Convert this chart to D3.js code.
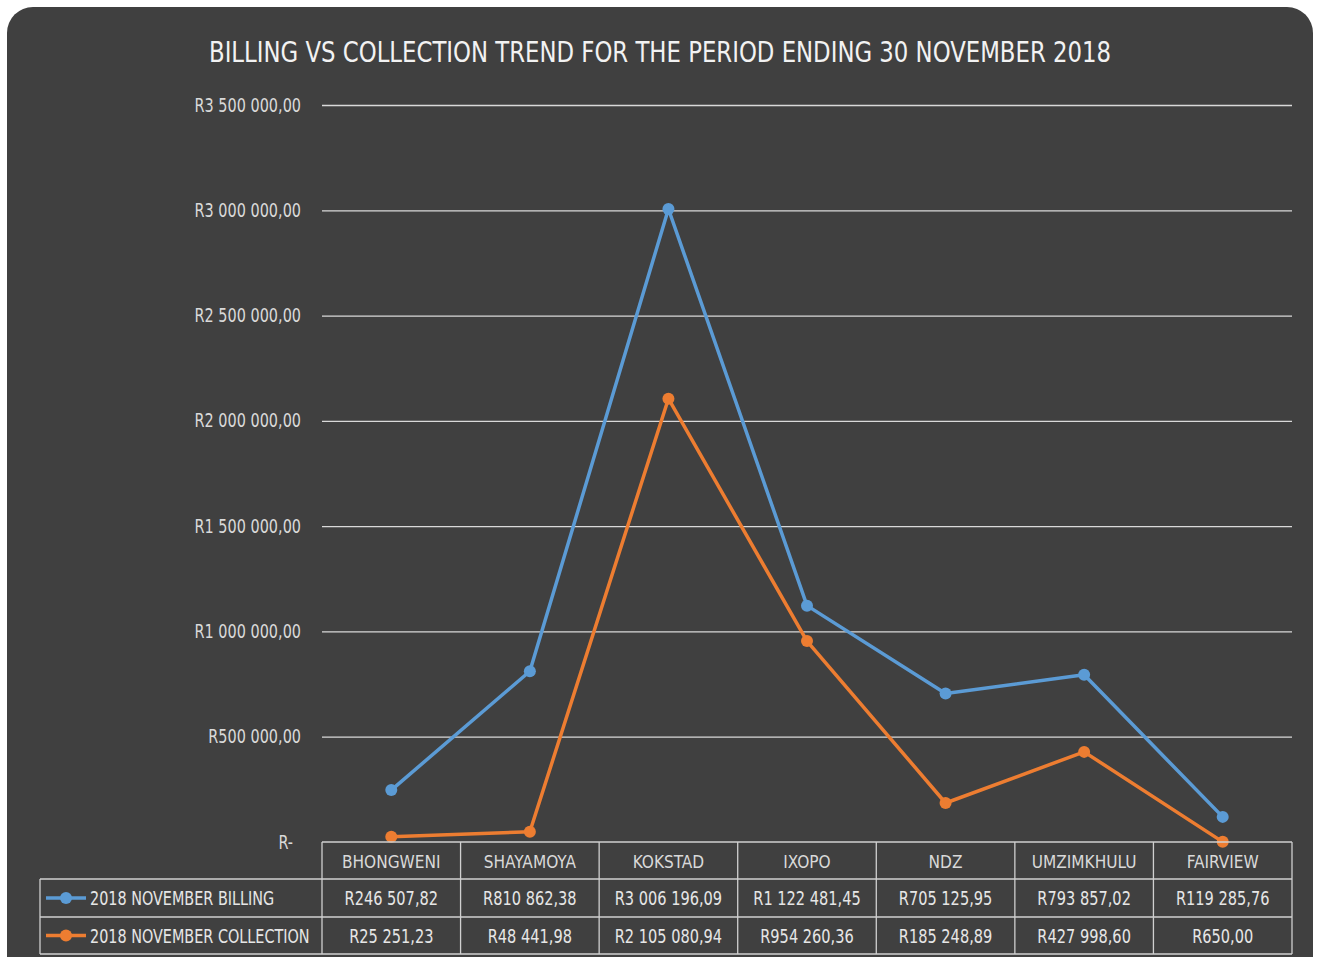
<!DOCTYPE html>
<html><head><meta charset="utf-8">
<script src="https://cdn.jsdelivr.net/npm/d3@7"></script>
<style>
html,body{margin:0;padding:0;background:#fff;}
svg{display:block;}
text{font-family:"Liberation Sans Narrow","DejaVu Sans Condensed","Roboto",sans-serif;}
</style></head>
<body><svg id="c" width="1317" height="957"></svg>
<script>
const title = "BILLING VS COLLECTION TREND FOR THE PERIOD ENDING 30 NOVEMBER 2018";
const categories = ["BHONGWENI","SHAYAMOYA","KOKSTAD","IXOPO","NDZ","UMZIMKHULU","FAIRVIEW"];
const seriesNames = ["2018 NOVEMBER BILLING","2018 NOVEMBER COLLECTION"];
const billing = [246507.82, 810862.38, 3006196.09, 1122481.45, 705125.95, 793857.02, 119285.76];
const collection = [25251.23, 48441.98, 2105080.94, 954260.36, 185248.89, 427998.60, 650.00];
const billingLabels = ["R246 507,82","R810 862,38","R3 006 196,09","R1 122 481,45","R705 125,95","R793 857,02","R119 285,76"];
const collectionLabels = ["R25 251,23","R48 441,98","R2 105 080,94","R954 260,36","R185 248,89","R427 998,60","R650,00"];
const yTicks = [0,500000,1000000,1500000,2000000,2500000,3000000,3500000];
const colors = ["#5B9BD5","#ED7D31"];

function condense(sel, f){
  sel.each(function(){
    const l=this.getComputedTextLength();
    d3.select(this).attr("textLength", l*f).attr("lengthAdjust","spacingAndGlyphs");
  });
}

const svg = d3.select("#c");
svg.append("rect").attr("x",7).attr("y",7).attr("width",1306).attr("height",990).attr("rx",26).attr("fill","#404040");

svg.append("text").attr("x",660).attr("y",62).attr("text-anchor","middle")
  .attr("fill","#f2f2f2").attr("font-size",29)
  .attr("textLength",902).attr("lengthAdjust","spacingAndGlyphs").text(title);

const pLeft=322, pRight=1292, pTop=105, pBottom=842;
const x = d3.scaleBand().domain(categories).range([pLeft,pRight]);
const y = d3.scaleLinear().domain([0,3500000]).range([pBottom,pTop]);

function fmt(v){
  if(v===0) return "R-";
  const s = d3.format(",.2f")(v).replace(/,/g," ").replace(".",",");
  return "R"+s;
}

// gridlines
const gy = svg.append("g").attr("transform",`translate(${pLeft},0)`)
  .call(d3.axisLeft(y).tickValues(yTicks).tickSize(-(pRight-pLeft)).tickFormat(fmt).tickPadding(21));
gy.select(".domain").remove();
gy.selectAll(".tick line").attr("stroke","#d9d9d9").attr("stroke-width",1.3)
  .attr("display",d=>d===0?"none":null);
const yt = gy.selectAll(".tick text").attr("fill","#d9d9d9").attr("font-size",19).attr("font-family",null)
  .attr("dx",d=>d===0?-8:0);
condense(yt,0.845);

// lines
const series=[billing,collection];
const line = d3.line().x((d,i)=>x(categories[i])+x.bandwidth()/2).y(d=>y(d));
series.forEach((s,k)=>{
  svg.append("path").datum(s).attr("d",line).attr("fill","none")
    .attr("stroke",colors[k]).attr("stroke-width",3.5).attr("stroke-linejoin","round");
  svg.selectAll(null).data(s).enter().append("circle")
    .attr("cx",(d,i)=>x(categories[i])+x.bandwidth()/2).attr("cy",d=>y(d)).attr("r",6)
    .attr("fill",colors[k]);
});

// data table
const rowH = [842,879,917,954];
const tableColor="#d0d0d0";
const tbl = svg.append("g");
tbl.append("line").attr("x1",pLeft).attr("x2",pRight).attr("y1",rowH[0]).attr("y2",rowH[0]).attr("stroke",tableColor).attr("stroke-width",1.3);
[1,2,3].forEach(r=>{
  tbl.append("line").attr("x1",40).attr("x2",pRight).attr("y1",rowH[r]).attr("y2",rowH[r]).attr("stroke",tableColor).attr("stroke-width",1.3);
});
const bounds = categories.map(c=>x(c)).concat([pRight]);
bounds.forEach(bx=>{
  tbl.append("line").attr("x1",bx).attr("x2",bx).attr("y1",rowH[0]).attr("y2",rowH[3]).attr("stroke",tableColor).attr("stroke-width",1.3);
});
tbl.append("line").attr("x1",40).attr("x2",40).attr("y1",rowH[1]).attr("y2",rowH[3]).attr("stroke",tableColor).attr("stroke-width",1.3);

categories.forEach(c=>{
  const t = tbl.append("text").attr("x",x(c)+x.bandwidth()/2).attr("y",(rowH[0]+rowH[1])/2+7)
    .attr("text-anchor","middle").attr("fill","#d9d9d9").attr("font-size",18).text(c);
  condense(t,0.95);
});
[billingLabels,collectionLabels].forEach((labs,k)=>{
  labs.forEach((t,i)=>{
    const tt = tbl.append("text").attr("x",x(categories[i])+x.bandwidth()/2).attr("y",(rowH[k+1]+rowH[k+2])/2+7)
      .attr("text-anchor","middle").attr("fill","#e6e6e6").attr("font-size",20).text(t);
    condense(tt,0.81);
  });
  const cy=(rowH[k+1]+rowH[k+2])/2;
  tbl.append("line").attr("x1",46).attr("x2",86).attr("y1",cy).attr("y2",cy).attr("stroke",colors[k]).attr("stroke-width",3.5);
  tbl.append("circle").attr("cx",66).attr("cy",cy).attr("r",6).attr("fill",colors[k]);
  const lt = tbl.append("text").attr("x",90).attr("y",cy+7).attr("fill","#e6e6e6").attr("font-size",20).text(seriesNames[k]);
  condense(lt,0.8);
});
</script></body></html>
